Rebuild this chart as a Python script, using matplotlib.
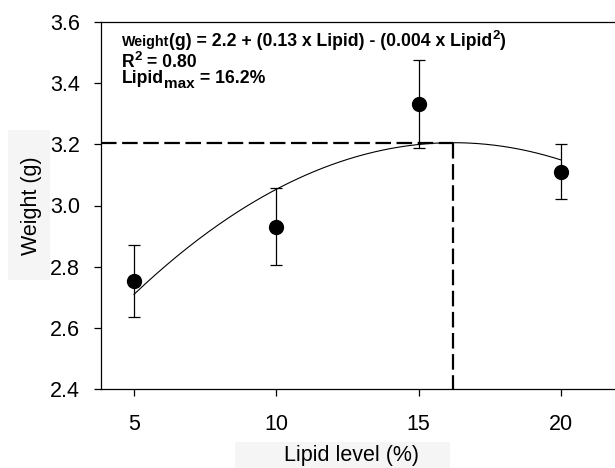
import numpy as np
import matplotlib
matplotlib.use("Agg")
import matplotlib.pyplot as plt
from matplotlib.patches import Rectangle
from matplotlib.transforms import offset_copy

plt.rcParams['font.family'] = ['Liberation Sans', 'DejaVu Sans']

# data
lipid = [5, 10, 15, 20]
weight = [2.754, 2.931, 3.332, 3.110]
weight_err = [0.117, 0.125, 0.145, 0.090]

# fitted quadratic (as drawn)
fit_a, fit_b, fit_c = 2.169, 0.1278, -0.00394
lipid_max = 16.2
weight_max = 3.205

x_ticks = [5, 10, 15, 20]
y_ticks = [2.4, 2.6, 2.8, 3.0, 3.2, 3.4, 3.6]

W, H = 615, 468
fig = plt.figure(figsize=(W / 100, H / 100), dpi=100)

# faint grey panels behind the axis titles
fig.patches.append(Rectangle((8 / W, 1 - 280 / H), 42 / W, 150 / H, transform=fig.transFigure,
                             facecolor='#f5f5f5', edgecolor='none', zorder=-5))
fig.patches.append(Rectangle((235 / W, 0), 215 / W, 26 / H, transform=fig.transFigure,
                             facecolor='#f5f5f5', edgecolor='none', zorder=-5))

ax = fig.add_axes([101 / W, 1 - 389 / H, 1 - 101 / W, (389 - 22) / H])
ax.patch.set_alpha(0)

xs = np.linspace(lipid[0], lipid[-1], 200)
ax.plot(xs, fit_a + fit_b * xs + fit_c * xs ** 2, color='black', lw=0.8, zorder=2)

ax.errorbar(lipid, weight, yerr=weight_err, fmt='o', color='black', ms=10,
            elinewidth=0.9, capsize=4.5, capthick=0.9, zorder=3)

xmin, xmax = 3.84, 21.9
ymin, ymax = 2.4, 3.6
ax.plot([xmin, lipid_max], [weight_max, weight_max], color='black', lw=1.6,
        dashes=(7, 2.5), zorder=1, clip_on=False)
ax.plot([lipid_max, lipid_max], [weight_max, ymin], color='black', lw=1.6,
        dashes=(7, 2.5), zorder=1, clip_on=False)

ax.set_xlim(xmin, xmax)
ax.set_ylim(ymin, ymax)
ax.set_xticks(x_ticks)
ax.set_yticks(y_ticks)
ax.set_yticklabels([f"{v:.1f}" for v in y_ticks])
ax.tick_params(direction='out', length=5, width=0.9, labelsize=15.5)
ax.tick_params(axis='y', pad=10)
ax.tick_params(axis='x', pad=13)
ax.spines['right'].set_visible(False)
for s in ['left', 'bottom', 'top']:
    ax.spines[s].set_linewidth(0.9)

ax.set_xlabel('Lipid level (%)', fontsize=15.5, va='center')
ax.xaxis.set_label_coords(0.488, -0.18)
ax.set_ylabel('Weight (g)', fontsize=15.5, va='center')
ax.yaxis.set_label_coords(-0.136, 0.5)


# equation text, written piece by piece (size, vertical shift in points)
renderer = fig.canvas.get_renderer()


def text_run(x, y, pieces):
    dx = 0
    for s, size, dy in pieces:
        tr = offset_copy(ax.transAxes, fig=fig, x=dx, y=dy, units='points')
        t = ax.text(x, y, s, fontsize=size, fontweight='bold', va='baseline',
                    transform=tr)
        dx += t.get_window_extent(renderer).width * 72 / fig.dpi


text_run(0.041, 0.934, [('Weight', 10.3, 0),
                        ('(g) = 2.2 + (0.13 x Lipid) - (0.004 x Lipid', 12.7, 0),
                        ('2', 9.5, 5), (')', 12.7, 0)])
text_run(0.041, 0.878, [('R', 12.7, 0), ('2', 9.5, 5), (' = 0.80', 12.7, 0)])
text_run(0.041, 0.834, [('Lipid', 12.7, 0), ('max', 11, -3.6), (' = 16.2%', 12.7, 0)])

fig.savefig('out.png', dpi=100)
